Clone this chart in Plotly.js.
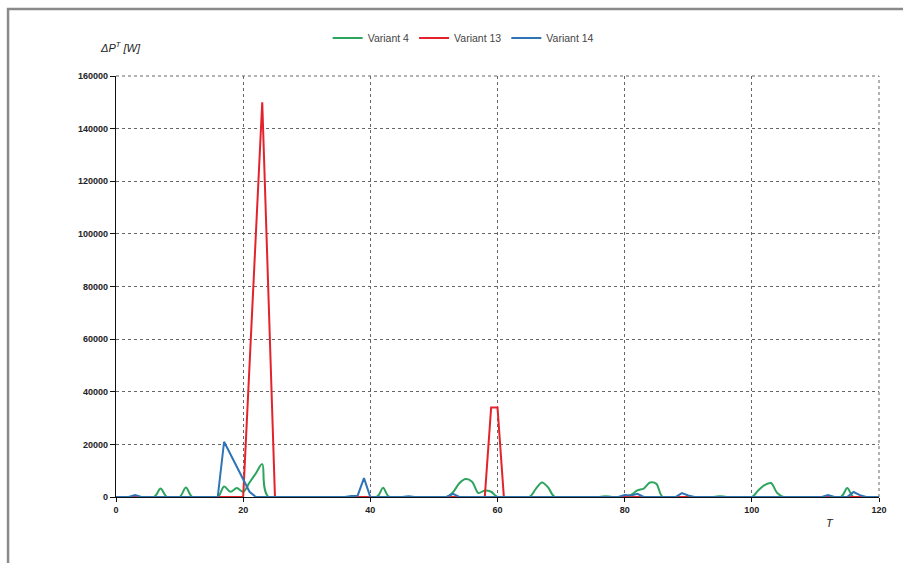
<!DOCTYPE html>
<html>
<head>
<meta charset="utf-8">
<script src="https://cdn.plot.ly/plotly-3.0.1.min.js"></script>
<style>html,body{margin:0;padding:0;background:#fff;}#chart{width:903px;height:563px;}</style>
</head>
<body>
<div id="chart"></div>
<script>
// Variant 4 (green)
const v4T   = [0, 6, 7, 8, 10, 11, 12, 16, 17, 18, 19, 20, 21, 22, 23, 24, 41, 42, 43, 52, 53, 54, 55, 56, 57, 58, 59, 60, 65, 66, 67, 68, 69, 76, 77, 78, 80, 81, 82, 83, 84, 85, 86, 94, 95, 96, 100, 101, 102, 103, 104, 105, 114, 115, 116, 120];
const v4Val = [0, 0, 3200, 0, 0, 3600, 0, 0, 4000, 2000, 3400, 2000, 5500, 9000, 12500, 0, 0, 3500, 0, 0, 1800, 5200, 6800, 5800, 1500, 2500, 2000, 0, 0, 3000, 5500, 3500, 0, 0, 300, 0, 0, 800, 2500, 3200, 5500, 5000, 0, 0, 300, 0, 0, 2500, 4500, 5300, 1500, 0, 0, 3400, 0, 0];
// Variant 13 (red)
const v13T   = [0, 20, 23, 25, 58, 59, 60, 61, 120];
const v13Val = [0, 0, 150000, 0, 0, 34000, 34000, 0, 0];
// Variant 14 (blue)
const v14T   = [0, 2, 3, 4, 16, 17, 21, 22, 36, 37, 38, 39, 40, 45, 46, 47, 52, 53, 54, 79, 80, 81, 82, 83, 88, 89, 90, 91, 111, 112, 113, 115, 116, 117, 118, 120];
const v14Val = [0, 0, 700, 0, 0, 21000, 2000, 0, 0, 400, 500, 7200, 0, 0, 300, 0, 0, 1200, 0, 0, 800, 600, 1200, 0, 0, 1500, 600, 0, 0, 700, 0, 0, 1900, 700, 0, 0];
const seriesNames = ["Variant 4", "Variant 13", "Variant 14"];
const xTicks = [0, 20, 40, 60, 80, 100, 120];
const yTicks = [0, 20000, 40000, 60000, 80000, 100000, 120000, 140000, 160000];

const traces = [
  {x: v4T, y: v4Val, name: seriesNames[0], type: "scatter", mode: "lines",
   line: {color: "#2ea55f", width: 2, shape: "spline", smoothing: 0.9}},
  {x: v13T, y: v13Val, name: seriesNames[1], type: "scatter", mode: "lines",
   line: {color: "#e3232c", width: 2}},
  {x: v14T, y: v14Val, name: seriesNames[2], type: "scatter", mode: "lines",
   line: {color: "#2f74b5", width: 2}}
];

const layout = {
  width: 903, height: 563,
  paper_bgcolor: "#fff", plot_bgcolor: "#fff",
  margin: {l: 116, r: 24, t: 76, b: 66},
  font: {family: "Liberation Sans, Arial, sans-serif", color: "#222"},
  showlegend: true,
  legend: {orientation: "h", x: 0.455, xanchor: "center", y: 1.09, yanchor: "middle",
           font: {size: 10.5, color: "#444"}, itemwidth: 30, tracegroupgap: 0},
  xaxis: {range: [0, 120], tickvals: xTicks, ticktext: xTicks.map(String),
          showgrid: true, gridcolor: "#666", griddash: "dot", gridwidth: 1,
          showline: true, linecolor: "#111", linewidth: 1.2, mirror: false,
          ticks: "outside", ticklen: 4, tickcolor: "#111", zeroline: false,
          tickfont: {size: 9, color: "#222", weight: "bold"}},
  yaxis: {range: [0, 160000], tickvals: yTicks, ticktext: yTicks.map(String),
          showgrid: true, gridcolor: "#666", griddash: "dot", gridwidth: 1,
          showline: true, linecolor: "#111", linewidth: 1.2,
          ticks: "outside", ticklen: 5, tickcolor: "#111", zeroline: false,
          tickfont: {size: 9, color: "#222", weight: "bold"}},
  shapes: [
    {type: "line", xref: "paper", yref: "paper", x0: 1, x1: 1, y0: 0, y1: 1,
     line: {color: "#666", width: 1, dash: "dot"}},
    {type: "line", xref: "paper", yref: "paper", x0: 0, x1: 1, y0: 1, y1: 1,
     line: {color: "#666", width: 1, dash: "dot"}},
    {type: "rect", xref: "paper", yref: "paper", x0: -0.1415, x1: 1.06, y0: -0.2, y1: 1.159,
     line: {color: "#8a8a8a", width: 2.5}, fillcolor: "rgba(0,0,0,0)", layer: "below"}
  ],
  annotations: [
    {xref: "paper", yref: "paper", x: 0.006, y: 1.07, xanchor: "center", yanchor: "middle",
     text: "<i>ΔP<sup>T</sup> [W]</i>", showarrow: false, font: {size: 11, color: "#222"}},
    {xref: "paper", yref: "paper", x: 0.936, y: -0.062, xanchor: "center", yanchor: "middle",
     text: "<i>T</i>", showarrow: false, font: {size: 11, color: "#222"}}
  ]
};

Plotly.newPlot("chart", traces, layout, {displayModeBar: false, staticPlot: true});
</script>
</body>
</html>
